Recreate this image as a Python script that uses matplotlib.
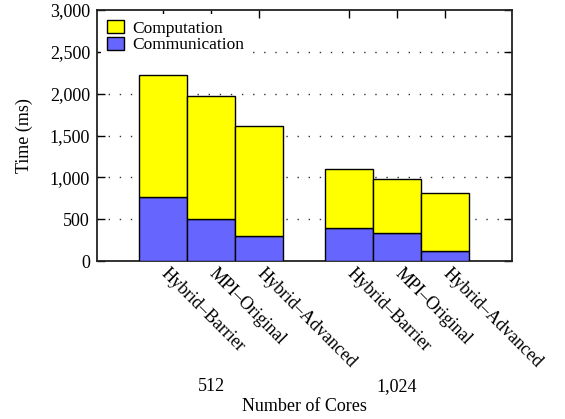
import matplotlib
matplotlib.use("Agg")
import matplotlib.pyplot as plt
from matplotlib.ticker import FuncFormatter
from matplotlib.transforms import ScaledTranslation

plt.rcParams['font.family'] = ['Liberation Serif', 'DejaVu Serif']
plt.rcParams['font.size'] = 13

# Data
core_counts = ["512", "1,024"]
variants = ["Hybrid\u2013Barrier", "MPI\u2013Original", "Hybrid\u2013Advanced"]
communication = [[760, 500, 300], [400, 340, 115]]
computation_total = [[2220, 1970, 1610], [1100, 980, 810]]
computation = [[t - c for t, c in zip(tr, cr)] for tr, cr in zip(computation_total, communication)]

yellow = "#ffff00"
blue = "#6666ff"

fig = plt.figure(figsize=(5.65, 4.19), dpi=100)
ax = fig.add_axes([97 / 565, 1 - 261 / 419, 415 / 565, 251 / 419])

group_offset = 3.875
xs, labels, comm_vals, comp_vals = [], [], [], []
group_centers = []
for g, name in enumerate(core_counts):
    base = g * group_offset
    for i, v in enumerate(variants):
        xs.append(base + i)
        labels.append(v)
        comm_vals.append(communication[g][i])
        comp_vals.append(computation[g][i])
    group_centers.append(base + 1)

ax.bar(xs, comm_vals, width=1.0, color=blue, edgecolor="black", linewidth=1.0,
       label="Communication", zorder=3)
ax.bar(xs, comp_vals, width=1.0, bottom=comm_vals, color=yellow, edgecolor="black",
       linewidth=1.0, label="Computation", zorder=3)

ax.set_xlim(-1.375, xs[-1] + 0.5 + 0.9)
ax.set_ylim(0, 3000)
ax.set_yticks(range(0, 3001, 500))
ax.yaxis.set_major_formatter(FuncFormatter(lambda v, p: f"{int(v):,}"))

# dotted horizontal grid
for yv in range(500, 3000, 500):
    ax.axhline(yv, color="#333333", linestyle=(0, (1, 7)), linewidth=1.0, zorder=1)

ax.tick_params(axis='y', direction='in', length=6, right=True, left=True, width=1.0, pad=5)
ax.set_xticks(xs)
ax.set_xticklabels(labels, rotation=-45, ha='left', va='top', rotation_mode='anchor')
ax.tick_params(axis='x', direction='in', length=6, top=True, bottom=False, width=1.0, pad=3)
shift = ScaledTranslation(7 / 100, 0, fig.dpi_scale_trans)
for lab in ax.get_xticklabels():
    lab.set_transform(lab.get_transform() + shift)

for s in ax.spines.values():
    s.set_linewidth(1.3)
    s.set_color("#222222")

xtrans = ax.get_xaxis_transform()
for gx, name in zip(group_centers, core_counts):
    ax.text(gx, -0.50, name, transform=xtrans, ha='center', va='center')

ax.text(0.5, -0.578, "Number of Cores", transform=ax.transAxes, ha='center', va='center')
ax.text(-0.175, 0.5, "Time (ms)", transform=ax.transAxes, ha='center', va='center', rotation=90)

handles, lbls = ax.get_legend_handles_labels()
leg = ax.legend(handles[::-1], lbls[::-1], loc='upper left', bbox_to_anchor=(0.0, 1.0),
                frameon=True, facecolor='white', edgecolor='none', framealpha=1.0,
                fontsize=12.5, handlelength=0.95, handleheight=0.75, handletextpad=0.5,
                labelspacing=0.0, borderaxespad=0.25, borderpad=0.35, fancybox=False)
leg.set_zorder(2)

fig.savefig("out.png", dpi=100)
